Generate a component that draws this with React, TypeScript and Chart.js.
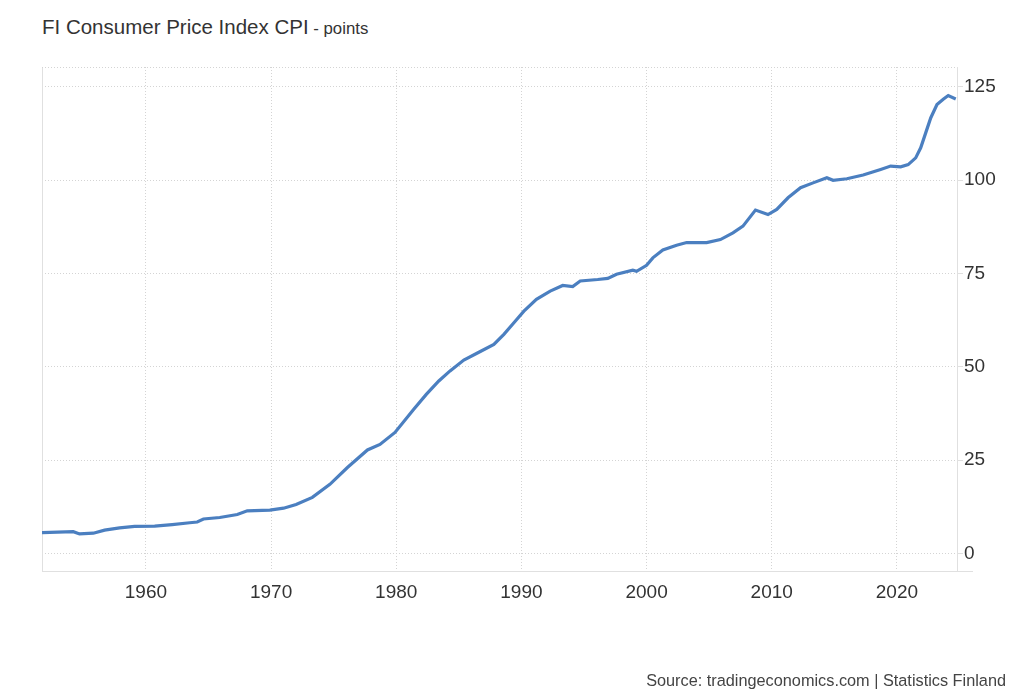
import { useEffect, useRef } from "react";
import { Chart, registerables } from "chart.js";

Chart.register(...registerables);

// ---- data ----
const years = [
  1951.7, 1954.2, 1954.7, 1955.8, 1956.7, 1957.9, 1959.1, 1960.7, 1962.1, 1963.5,
  1964.1, 1964.6, 1965.9, 1967.3, 1968.1, 1969.9, 1971.0, 1972.0, 1973.3, 1974.7,
  1976.1, 1977.7, 1978.7, 1979.9, 1981.4, 1982.4, 1983.4, 1984.3, 1985.4, 1986.6,
  1987.8, 1988.6, 1989.4, 1990.2, 1991.2, 1992.3, 1993.3, 1994.1, 1994.7, 1996.1,
  1996.9, 1997.6, 1998.9, 1999.2, 2000.0, 2000.5, 2001.3, 2002.4, 2003.2, 2004.8,
  2005.9, 2006.9, 2007.7, 2008.7, 2009.7, 2010.4, 2011.3, 2012.3, 2013.3, 2014.4,
  2014.9, 2016.0, 2017.3, 2018.7, 2019.5, 2020.3, 2020.9, 2021.5, 2021.9, 2022.3,
  2022.7, 2023.2, 2023.7, 2024.1, 2024.7,
];
const cpi = [
  5.55, 5.8, 5.2, 5.4, 6.2, 6.8, 7.2, 7.3, 7.7, 8.2,
  8.4, 9.2, 9.6, 10.4, 11.4, 11.6, 12.1, 13.1, 15.0, 18.5,
  23.0, 27.7, 29.2, 32.4, 38.6, 42.6, 46.2, 48.9, 51.8, 53.9,
  56.0, 58.7, 61.8, 64.9, 68.1, 70.3, 71.8, 71.5, 73.0, 73.4,
  73.7, 74.8, 75.9, 75.6, 77.2, 79.2, 81.3, 82.6, 83.3, 83.3,
  84.1, 85.9, 87.7, 92.0, 90.8, 92.2, 95.3, 98.0, 99.3, 100.7,
  100.0, 100.4, 101.4, 102.9, 103.8, 103.6, 104.2, 106.0, 108.7, 112.7,
  116.7, 120.3, 121.7, 122.7, 121.8,
];
const xTickYears = [1960, 1970, 1980, 1990, 2000, 2010, 2020];
const yTickValues = [0, 25, 50, 75, 100, 125];

const titleMain = "FI Consumer Price Index CPI";
const titleUnit = "- points";
const sourceText = "Source: tradingeconomics.com | Statistics Finland";

const X_MIN = 1951.7;
const X_MAX = 2024.8;
const Y_MIN = -4.74;
const Y_MAX = 130.36;

const FONT = "'Liberation Sans', Arial, Helvetica, sans-serif";
const GRID = "#d4d4d4";
const AXIS = "#e0e0e0";

const framePlugin = {
  id: "frame",
  beforeDatasetsDraw(chart: any) {
    const { ctx, chartArea: a } = chart;
    ctx.save();
    ctx.lineWidth = 1;
    ctx.strokeStyle = AXIS;
    ctx.beginPath();
    ctx.moveTo(Math.round(a.left) + 0.5, a.top);
    ctx.lineTo(Math.round(a.left) + 0.5, a.bottom);
    ctx.stroke();
    ctx.strokeStyle = GRID;
    ctx.setLineDash([1, 2]);
    ctx.beginPath();
    ctx.moveTo(a.left, Math.round(a.top) + 0.5);
    ctx.lineTo(a.right, Math.round(a.top) + 0.5);
    ctx.stroke();
    ctx.setLineDash([]);
    ctx.strokeStyle = AXIS;
    ctx.beginPath();
    ctx.moveTo(a.right, Math.round(a.bottom) + 0.5);
    ctx.lineTo(a.right + 16, Math.round(a.bottom) + 0.5);
    ctx.stroke();
    ctx.restore();
  },
};

export default function App() {
  const canvasRef = useRef<HTMLCanvasElement | null>(null);

  useEffect(() => {
    if (!canvasRef.current) return;
    const points = years.map((y, i) => ({ x: y, y: cpi[i] }));
    const chart = new Chart(canvasRef.current, {
      type: "line",
      data: {
        datasets: [
          {
            data: points,
            borderColor: "#4b7fc0",
            borderWidth: 3.2,
            pointRadius: 0,
            tension: 0,
            fill: false,
          },
        ],
      },
      options: {
        animation: false,
        responsive: false,
        events: [],
        layout: { padding: { left: 42, top: 67, right: 0, bottom: 88 } },
        plugins: {
          legend: { display: false },
          tooltip: { enabled: false },
          title: { display: false },
        },
        scales: {
          x: {
            type: "linear",
            position: "bottom",
            min: X_MIN,
            max: X_MAX,
            afterBuildTicks: (scale: any) => {
              scale.ticks = xTickYears.map((v) => ({ value: v }));
            },
            afterFit: (scale: any) => {
              scale.height = 41;
            },
            grid: { color: GRID, drawTicks: false },
            border: { color: AXIS, dash: [1, 2] },
            ticks: {
              padding: 10,
              color: "#333333",
              font: { family: FONT, size: 19 },
              maxRotation: 0,
              autoSkip: false,
              callback: (v: any) => String(v),
            },
          },
          y: {
            type: "linear",
            position: "right",
            min: Y_MIN,
            max: Y_MAX,
            afterBuildTicks: (scale: any) => {
              scale.ticks = yTickValues.map((v) => ({ value: v }));
            },
            afterFit: (scale: any) => {
              scale.width = 67;
            },
            grid: { color: GRID, tickLength: 6, tickColor: AXIS },
            border: { color: AXIS, dash: [1, 2] },
            ticks: {
              padding: 1,
              color: "#333333",
              font: { family: FONT, size: 19 },
              callback: (v: any) => String(v),
            },
          },
        },
      },
      plugins: [framePlugin],
    });
    return () => chart.destroy();
  }, []);

  return (
    <div
      style={{
        position: "absolute",
        left: 0,
        top: 0,
        width: 1024,
        height: 700,
        background: "#ffffff",
        fontFamily: FONT,
      }}
    >
      <div
        style={{
          position: "absolute",
          left: 42,
          top: 17,
          lineHeight: "20px",
          whiteSpace: "nowrap",
          color: "#333333",
        }}
      >
        <span style={{ fontSize: 20.5 }}>{titleMain}</span>
        <span style={{ fontSize: 16.8 }}> {titleUnit}</span>
      </div>
      <canvas
        ref={canvasRef}
        width={1024}
        height={700}
        style={{ position: "absolute", left: 0, top: 0, width: 1024, height: 700 }}
      />
      <div
        style={{
          position: "absolute",
          right: 18,
          top: 670,
          fontSize: 16.3,
          lineHeight: "20px",
          whiteSpace: "nowrap",
          color: "#444444",
        }}
      >
        {sourceText}
      </div>
    </div>
  );
}
